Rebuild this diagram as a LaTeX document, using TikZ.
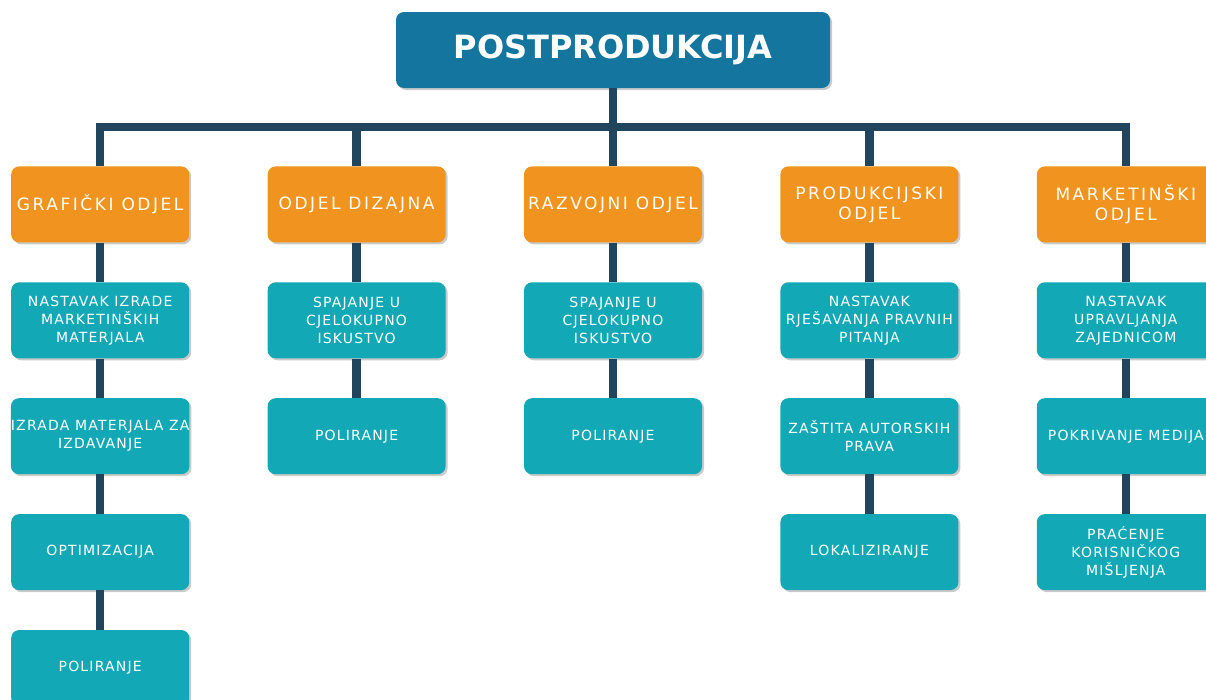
\documentclass[tikz,border=0pt]{standalone}
\usepackage{fontspec}
\setmainfont{DejaVu Sans}
\newfontfamily\spacedfont[LetterSpace=15]{DejaVu Sans}
\newfontfamily\taskfont[LetterSpace=8.5]{DejaVu Sans}
\usetikzlibrary{positioning,shadows}
\definecolor{topblue}{HTML}{14769F}
\definecolor{deptorange}{HTML}{F0941F}
\definecolor{taskteal}{HTML}{13A8B5}
\definecolor{linkcol}{HTML}{22455E}

\begin{document}
\begin{tikzpicture}[
    x=1pt, y=1pt,
    node distance=39.5pt and 78pt,
    box/.style={rounded corners=8pt, minimum width=178pt, minimum height=76pt,
      inner sep=0pt, align=center, text=white,
      drop shadow={shadow xshift=2pt, shadow yshift=-2pt, fill=black!35, opacity=0.6}},
    head/.style={box, fill=deptorange, font=\spacedfont\fontsize{17}{20}\selectfont},
    task/.style={box, fill=taskteal, font=\taskfont\fontsize{14}{18}\selectfont},
    link/.style={draw=linkcol, line width=8.5pt},
  ]
  \useasboundingbox (0,0) rectangle (1206,-699);

  % Root
  \node[box, fill=topblue, minimum width=434pt,
    font=\bfseries\fontsize{32}{36}\selectfont] (top) at (613,-50) {POSTPRODUKCIJA};

  % Departments
  \node[head, below=78pt of top] (razvoj) {RAZVOJNI ODJEL};
  \node[head, left=78pt of razvoj] (dizajn) {ODJEL DIZAJNA};
  \node[head, left=78pt of dizajn] (graf) {GRAFIČKI ODJEL};
  \node[head, right=78pt of razvoj] (prod) {PRODUKCIJSKI\\ODJEL};
  \node[head, right=78pt of prod] (mark) {MARKETINŠKI\\ODJEL};

  % Graficki odjel
  \node[task, below=of graf] (g1) {NASTAVAK IZRADE\\MARKETINŠKIH\\MATERJALA};
  \node[task, below=of g1] (g2) {IZRADA MATERJALA ZA\\IZDAVANJE};
  \node[task, below=of g2] (g3) {OPTIMIZACIJA};
  \node[task, below=of g3] (g4) {POLIRANJE};

  % Odjel dizajna
  \node[task, below=of dizajn] (d1) {SPAJANJE U\\CJELOKUPNO\\ISKUSTVO};
  \node[task, below=of d1] (d2) {POLIRANJE};

  % Razvojni odjel
  \node[task, below=of razvoj] (r1) {SPAJANJE U\\CJELOKUPNO\\ISKUSTVO};
  \node[task, below=of r1] (r2) {POLIRANJE};

  % Produkcijski odjel
  \node[task, below=of prod] (p1) {NASTAVAK\\RJEŠAVANJA PRAVNIH\\PITANJA};
  \node[task, below=of p1] (p2) {ZAŠTITA AUTORSKIH\\PRAVA};
  \node[task, below=of p2] (p3) {LOKALIZIRANJE};

  % Marketinski odjel
  \node[task, below=of mark] (m1) {NASTAVAK\\UPRAVLJANJA\\ZAJEDNICOM};
  \node[task, below=of m1] (m2) {POKRIVANJE MEDIJA};
  \node[task, below=of m2] (m3) {PRAĆENJE\\KORISNIČKOG\\MIŠLJENJA};

  % Links
  \draw[link] (top.south) -- ++(0,-39) -| (graf.north);
  \draw[link] (top.south) -- ++(0,-39) -| (dizajn.north);
  \draw[link] (top.south) -- (razvoj.north);
  \draw[link] (top.south) -- ++(0,-39) -| (prod.north);
  \draw[link] (top.south) -- ++(0,-39) -| (mark.north);
  \draw[link] (graf) -- (g1);
  \draw[link] (g1) -- (g2);
  \draw[link] (g2) -- (g3);
  \draw[link] (g3) -- (g4);
  \draw[link] (dizajn) -- (d1);
  \draw[link] (d1) -- (d2);
  \draw[link] (razvoj) -- (r1);
  \draw[link] (r1) -- (r2);
  \draw[link] (prod) -- (p1);
  \draw[link] (p1) -- (p2);
  \draw[link] (p2) -- (p3);
  \draw[link] (mark) -- (m1);
  \draw[link] (m1) -- (m2);
  \draw[link] (m2) -- (m3);
\end{tikzpicture}
\end{document}
